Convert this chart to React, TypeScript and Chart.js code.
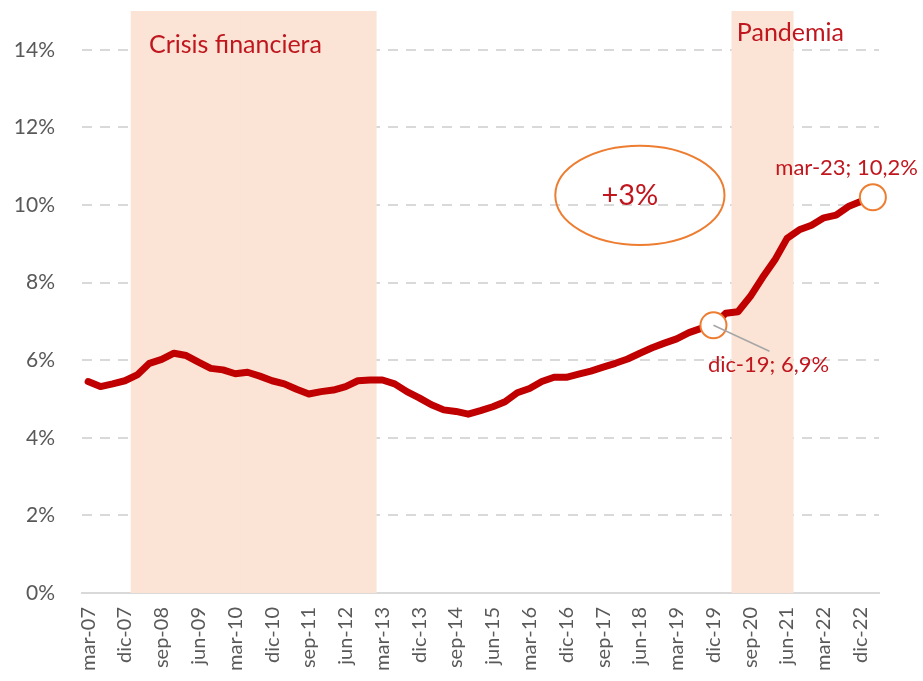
import React, { useEffect, useRef } from "react";
import { Chart, registerables } from "chart.js";

Chart.register(...registerables);

const categories: string[] = [
  "mar-07", "jun-07", "sep-07", "dic-07",
  "mar-08", "jun-08", "sep-08", "dic-08",
  "mar-09", "jun-09", "sep-09", "dic-09",
  "mar-10", "jun-10", "sep-10", "dic-10",
  "mar-11", "jun-11", "sep-11", "dic-11",
  "mar-12", "jun-12", "sep-12", "dic-12",
  "mar-13", "jun-13", "sep-13", "dic-13",
  "mar-14", "jun-14", "sep-14", "dic-14",
  "mar-15", "jun-15", "sep-15", "dic-15",
  "mar-16", "jun-16", "sep-16", "dic-16",
  "mar-17", "jun-17", "sep-17", "dic-17",
  "mar-18", "jun-18", "sep-18", "dic-18",
  "mar-19", "jun-19", "sep-19", "dic-19",
  "mar-20", "jun-20", "sep-20", "dic-20",
  "mar-21", "jun-21", "sep-21", "dic-21",
  "mar-22", "jun-22", "sep-22", "dic-22",
  "mar-23",
];

const values: number[] = [
  5.45, 5.32, 5.39, 5.47,
  5.62, 5.92, 6.02, 6.18,
  6.12, 5.95, 5.79, 5.75,
  5.65, 5.69, 5.59, 5.47,
  5.39, 5.25, 5.13, 5.19,
  5.23, 5.32, 5.47, 5.49,
  5.49, 5.39, 5.19, 5.03,
  4.85, 4.72, 4.68, 4.61,
  4.70, 4.80, 4.93, 5.16,
  5.27, 5.45, 5.56, 5.56,
  5.64, 5.72, 5.82, 5.92,
  6.03, 6.18, 6.32, 6.44,
  6.55, 6.71, 6.82, 6.90,
  7.21, 7.25, 7.64, 8.13,
  8.58, 9.14, 9.36, 9.48,
  9.67, 9.74, 9.96, 10.09,
  10.20,
];

const crisisBand: [string, string] = ["mar-08", "dic-12"];
const pandemicBand: [string, string] = ["jun-20", "jun-21"];
const bandLabels: string[] = ["Crisis financiera", "Pandemia"];
const highlighted: string[] = ["dic-19", "mar-23"];
const highlightLabels: string[] = ["dic-19; 6,9%", "mar-23; 10,2%"];
const yTickValues: number[] = [0, 2, 4, 6, 8, 10, 12, 14];
const calloutText = "+3%";

const RED = "#C00000";
const TEXT_RED = "#C0161E";
const ORANGE = "#ED7D31";
const BAND = "#FBE4D5";
const GRID = "#D9D9D9";
const TICK = "#595959";
const FONT = "Lato, 'Noto Sans', sans-serif";

function inBand(label: string, band: [string, string]): boolean {
  const i = categories.indexOf(label);
  return i >= categories.indexOf(band[0]) && i <= categories.indexOf(band[1]);
}

const annotationPlugin = {
  id: "annotations",
  afterDatasetsDraw(chart: any) {
    const { ctx, scales } = chart;
    const x = scales.x;
    const y = scales.y;
    const step = x.getPixelForValue(1) - x.getPixelForValue(0);
    ctx.save();

    // band titles
    ctx.fillStyle = TEXT_RED;
    ctx.textBaseline = "middle";
    ctx.textAlign = "left";
    ctx.font = `25px ${FONT}`;
    const c0 = x.getPixelForValue(categories.indexOf(crisisBand[0])) - step / 2;
    ctx.fillText(bandLabels[0], c0 + 18, y.getPixelForValue(14.12));
    const p0 = x.getPixelForValue(categories.indexOf(pandemicBand[0])) - step / 2;
    ctx.fillText(bandLabels[1], p0 + 5, y.getPixelForValue(14.43));

    // callout ellipse
    const ex = x.getPixelForValue(categories.indexOf("jun-18"));
    const ey = y.getPixelForValue(10.25);
    const rx = step * 6.9;
    const ry = y.getPixelForValue(0) - y.getPixelForValue(1.28);
    ctx.beginPath();
    ctx.ellipse(ex, ey, rx, ry, 0, 0, Math.PI * 2);
    ctx.strokeStyle = ORANGE;
    ctx.lineWidth = 2;
    ctx.stroke();
    ctx.fillStyle = TEXT_RED;
    ctx.textAlign = "center";
    ctx.font = `29px ${FONT}`;
    ctx.fillText(calloutText, ex - 10, ey);

    // highlighted point labels
    const i1 = categories.indexOf(highlighted[0]);
    const i2 = categories.indexOf(highlighted[1]);
    const x1 = x.getPixelForValue(i1);
    const y1 = y.getPixelForValue(values[i1]);
    const x2 = x.getPixelForValue(i2);
    const y2 = y.getPixelForValue(values[i2]);

    // leader line for dic-19
    ctx.beginPath();
    ctx.moveTo(x1, y1);
    ctx.lineTo(x1 + 56, y1 + 26);
    ctx.strokeStyle = "#A6A6A6";
    ctx.lineWidth = 1.5;
    ctx.stroke();

    ctx.font = `22px ${FONT}`;
    ctx.fillStyle = TEXT_RED;
    ctx.textAlign = "center";
    ctx.fillText(highlightLabels[0], x1 + 55, y1 + 40);
    ctx.textAlign = "right";
    ctx.fillText(highlightLabels[1], x2 + 45, y2 - 29);

    ctx.restore();
  },
};

export default function App() {
  const ref = useRef<HTMLCanvasElement | null>(null);

  useEffect(() => {
    document.body.style.margin = "0";
    const canvas = ref.current;
    if (!canvas) return;

    const hiIdx = highlighted.map((h) => categories.indexOf(h));

    const chart = new Chart(canvas, {
      type: "line",
      data: {
        labels: categories,
        datasets: [
          {
            type: "line",
            data: values,
            borderColor: RED,
            borderWidth: 7,
            tension: 0,
            borderJoinStyle: "round",
            borderCapStyle: "round",
            pointRadius: (c: any) => (hiIdx.includes(c.dataIndex) ? 13 : 0),
            pointHoverRadius: (c: any) => (hiIdx.includes(c.dataIndex) ? 13 : 0),
            pointBackgroundColor: "#FFFFFF",
            pointBorderColor: ORANGE,
            pointBorderWidth: 2,
            order: 1,
            yAxisID: "y",
          } as any,
          {
            type: "bar",
            data: categories.map((c) => (inBand(c, crisisBand) ? 1 : null)),
            backgroundColor: BAND,
            borderWidth: 0,
            barPercentage: 1,
            categoryPercentage: 1,
            grouped: false,
            order: 3,
            yAxisID: "yBand",
          } as any,
          {
            type: "bar",
            data: categories.map((c) => (inBand(c, pandemicBand) ? 1 : null)),
            backgroundColor: BAND,
            borderWidth: 0,
            barPercentage: 1,
            categoryPercentage: 1,
            grouped: false,
            order: 2,
            yAxisID: "yBand",
          } as any,
        ],
      },
      options: {
        animation: false,
        responsive: true,
        maintainAspectRatio: false,
        layout: { autoPadding: false, padding: { top: 11, right: 44, left: 0, bottom: 0 } },
        plugins: {
          legend: { display: false },
          tooltip: { enabled: false },
        },
        scales: {
          x: {
            type: "category",
            offset: true,
            grid: { display: false, drawTicks: false },
            border: { display: true, color: GRID, width: 2 },
            ticks: {
              autoSkip: false,
              maxRotation: 90,
              minRotation: 90,
              padding: 14,
              color: TICK,
              font: { family: FONT, size: 20 },
              callback: (_v: any, i: number) => (i % 3 === 0 ? categories[i] : ""),
            },
            afterFit: (s: any) => {
              s.height = 88;
              s.paddingLeft = 0;
              s.paddingRight = 0;
            },
          },
          y: {
            min: 0,
            max: 15,
            grid: {
              drawTicks: false,
              lineWidth: 2,
              color: (c: any) =>
                c.tick && yTickValues.includes(c.tick.value) && c.tick.value !== 0 ? GRID : "rgba(0,0,0,0)",
            },
            border: { display: false, dash: [10, 8] },
            ticks: {
              stepSize: 2,
              includeBounds: false,
              padding: 27,
              color: TICK,
              font: { family: FONT, size: 21 },
              callback: (v: any) => (yTickValues.includes(v) ? `${v}%` : ""),
            },
            afterFit: (s: any) => {
              s.width = 82;
              s.paddingTop = 0;
              s.paddingBottom = 0;
            },
          },
          yBand: {
            display: false,
            min: 0,
            max: 1,
          },
        },
      } as any,
      plugins: [annotationPlugin],
    });

    return () => chart.destroy();
  }, []);

  return (
    <div style={{ position: "absolute", left: 0, top: 0, width: 923, height: 681 }}>
      <canvas ref={ref} />
    </div>
  );
}
